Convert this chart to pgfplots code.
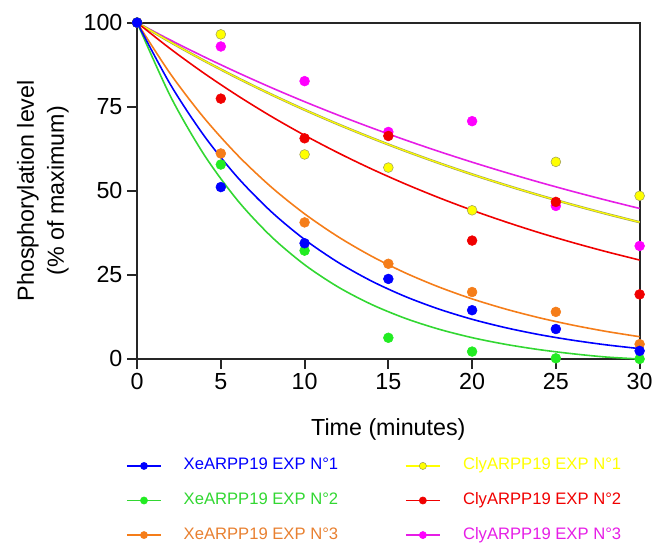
\documentclass[border=0pt]{standalone}
\usepackage{fontspec}
\setmainfont{Liberation Sans}
\usepackage{pgfplots}
\pgfplotsset{compat=1.18}
\definecolor{cblue}{RGB}{0,0,255}
\definecolor{cgreen}{RGB}{34,236,34}
\definecolor{cgreenl}{RGB}{50,215,50}
\definecolor{corange}{RGB}{245,125,25}
\definecolor{coranget}{RGB}{232,128,48}
\definecolor{cyellow}{RGB}{255,255,0}
\definecolor{cygray}{RGB}{160,160,90}
\definecolor{cred}{RGB}{240,0,0}
\definecolor{cmag}{RGB}{255,0,255}
\definecolor{cmagl}{RGB}{230,30,230}
\begin{document}
\begin{tikzpicture}
\begin{axis}[
  scale only axis, width=378pt, height=253pt,
  xmin=0, xmax=30, ymin=0, ymax=100,
  xtick={0,5,10,15,20,25,30}, ytick={0,25,50,75,100},
  tick pos=left, tick align=outside,
  major tick length=7.5pt,
  axis line style={line width=1.5pt, black!85},
  every tick/.style={black!85, line width=1.5pt},
  /pgf/number format/assume math mode=true,
  ticklabel style={font=\fontsize{17.5}{21}\selectfont},
  label style={font=\fontsize{17.5}{22.5}\selectfont},
  xlabel={Time (minutes)},
  ylabel={Phosphorylation level\\(\% of maximum)},
  xlabel style={at={(axis description cs:0.5,-0.2105)}, anchor=center},
  ylabel style={at={(axis description cs:-0.1876,0.5)}, anchor=center, align=center},
  clip=false,
  legend columns=3, transpose legend,
  legend cell align=left,
  legend style={draw=none, fill=none, at={(0,0)}, anchor=north west,
    xshift=-8.4pt, yshift=-72.25pt, inner xsep=0pt, inner ysep=0pt,
    font=\fontsize{12.5}{15}\selectfont,
    nodes={inner sep=2pt, text height=9pt, text depth=3pt},
    row sep=10pt,
    /tikz/every odd column/.append style={column sep=14.5pt},
    /tikz/every even column/.append style={column sep=48pt}},
]
% fitted curves
\addplot[cmagl, line width=1.2pt, smooth, forget plot] coordinates {
(0,100)(2,94.78)(4,89.83)(6,85.15)(8,80.70)(10,76.49)(12,72.50)(14,68.72)(16,65.13)(18,61.73)(20,58.51)(22,55.46)(24,52.56)(26,49.82)(28,47.22)(30,44.75)};
\addplot[cygray, double=cyellow, double distance=0.9pt, line width=0.45pt, smooth, forget plot] coordinates {
(0,100)(2,94.18)(4,88.69)(6,83.53)(8,78.66)(10,74.08)(12,69.77)(14,65.71)(16,61.88)(18,58.28)(20,54.88)(22,51.69)(24,48.68)(26,45.84)(28,43.17)(30,40.66)};
\addplot[cred, line width=1.2pt, smooth, forget plot] coordinates {
(0,100)(2,92.16)(4,84.94)(6,78.29)(8,72.15)(10,66.50)(12,61.29)(14,56.48)(16,52.06)(18,47.98)(20,44.22)(22,40.76)(24,37.56)(26,34.62)(28,31.91)(30,29.41)};
\addplot[corange, line width=1.2pt, smooth, forget plot] coordinates {
(0,100)(2,84.69)(4,71.66)(6,60.58)(8,51.16)(10,43.15)(12,36.34)(14,30.55)(16,25.62)(18,21.43)(20,17.86)(22,14.84)(24,12.26)(26,10.07)(28,8.20)(30,6.62)};
\addplot[cgreenl, line width=1.2pt, smooth, forget plot] coordinates {
(0,100)(2,78.02)(4,60.73)(6,47.14)(8,36.44)(10,28.02)(12,21.40)(14,16.20)(16,12.10)(18,8.88)(20,6.34)(22,4.35)(24,2.78)(26,1.55)(28,0.58)(30,0)};
\addplot[cblue, line width=1.2pt, smooth, forget plot] coordinates {
(0,100)(2,81.51)(4,66.37)(6,53.98)(8,43.83)(10,35.52)(12,28.72)(14,23.15)(16,18.59)(18,14.86)(20,11.80)(22,9.30)(24,7.25)(26,5.58)(28,4.20)(30,3.08)};
% data points
\addplot[only marks, mark=*, mark size=3.7pt, mark options={draw=cmag, fill=cmag}, forget plot] coordinates {
(0,100)(5,92.9)(10,82.6)(15,67.5)(20,70.7)(25,45.5)(30,33.6)};
\addplot[only marks, mark=*, mark size=3.7pt, mark options={draw=cred, fill=cred}, forget plot] coordinates {
(0,100)(5,77.4)(10,65.6)(15,66.3)(20,35.2)(25,46.7)(30,19.2)};
\addplot[only marks, mark=*, mark size=3.7pt, mark options={draw=cygray, line width=0.4pt, fill=cyellow}, forget plot] coordinates {
(0,100)(5,96.5)(10,60.8)(15,56.9)(20,44.2)(25,58.6)(30,48.5)};
\addplot[only marks, mark=*, mark size=3.7pt, mark options={draw=corange, fill=corange}, forget plot] coordinates {
(0,100)(5,61.1)(10,40.6)(15,28.3)(20,19.9)(25,14.0)(30,4.4)};
\addplot[only marks, mark=*, mark size=3.7pt, mark options={draw=cgreen, fill=cgreen}, forget plot] coordinates {
(0,100)(5,57.8)(10,32.2)(15,6.3)(20,2.2)(25,0.2)(30,0)};
\addplot[only marks, mark=*, mark size=3.7pt, mark options={draw=cblue, fill=cblue}, forget plot] coordinates {
(0,100)(5,51.1)(10,34.4)(15,23.8)(20,14.5)(25,8.9)(30,2.4)};
% legend
\addlegendimage{legend image code/.code={\draw[cblue, line width=1.2pt] (0cm,0cm) -- (0.9cm,0cm); \fill[cblue] (0.45cm,0cm) circle (2.7pt);}}
\addlegendentry{\textcolor{cblue}{XeARPP19 EXP N°1}}
\addlegendimage{legend image code/.code={\draw[cgreenl, line width=1.2pt] (0cm,0cm) -- (0.9cm,0cm); \fill[cgreen] (0.45cm,0cm) circle (2.7pt);}}
\addlegendentry{\textcolor{cgreenl}{XeARPP19 EXP N°2}}
\addlegendimage{legend image code/.code={\draw[corange, line width=1.2pt] (0cm,0cm) -- (0.9cm,0cm); \fill[corange] (0.45cm,0cm) circle (2.7pt);}}
\addlegendentry{\textcolor{coranget}{XeARPP19 EXP N°3}}
\addlegendimage{legend image code/.code={\draw[cygray, double=cyellow, double distance=0.9pt, line width=0.45pt] (0cm,0cm) -- (0.9cm,0cm); \filldraw[fill=cyellow, draw=cygray, line width=0.4pt] (0.45cm,0cm) circle (2.7pt);}}
\addlegendentry{\textcolor{cyellow}{ClyARPP19 EXP N°1}}
\addlegendimage{legend image code/.code={\draw[cred, line width=1.2pt] (0cm,0cm) -- (0.9cm,0cm); \fill[cred] (0.45cm,0cm) circle (2.7pt);}}
\addlegendentry{\textcolor{cred}{ClyARPP19 EXP N°2}}
\addlegendimage{legend image code/.code={\draw[cmagl, line width=1.2pt] (0cm,0cm) -- (0.9cm,0cm); \fill[cmag] (0.45cm,0cm) circle (2.7pt);}}
\addlegendentry{\textcolor{cmagl}{ClyARPP19 EXP N°3}}
\end{axis}
\path (-103.1pt,-136.5pt) rectangle (389.6pt,270pt);
\end{tikzpicture}
\end{document}
